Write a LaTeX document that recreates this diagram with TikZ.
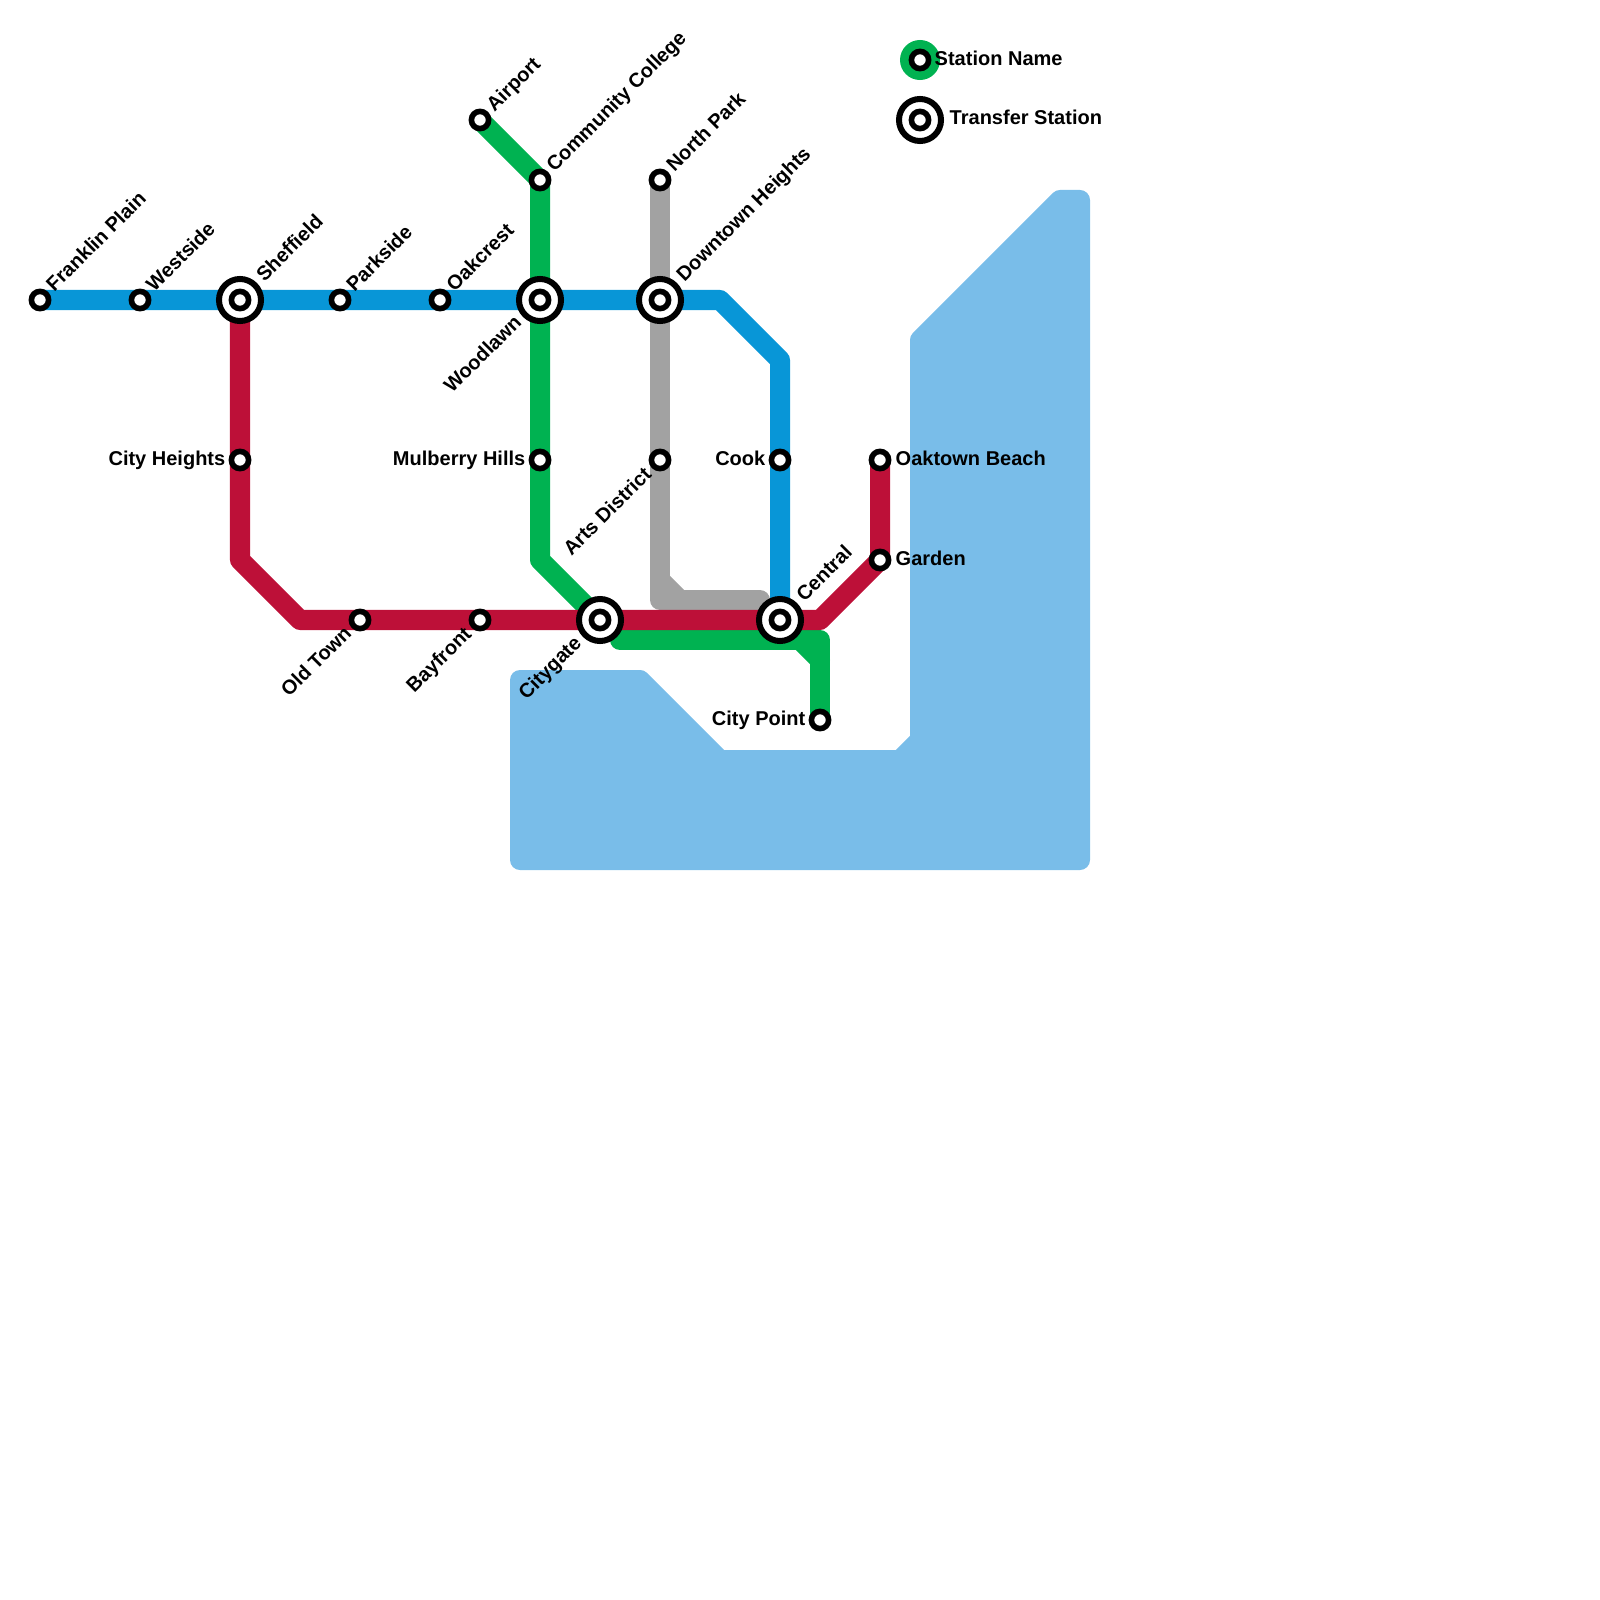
\documentclass[tikz,border=0pt]{standalone}
\usepackage{fontspec}
\setmainfont{Liberation Sans}
\usetikzlibrary{backgrounds,calc}
\definecolor{lineblue}{HTML}{0896D7}
\definecolor{linered}{HTML}{BD1038}
\definecolor{linegreen}{HTML}{00B251}
\definecolor{linegray}{HTML}{A2A2A2}
\definecolor{waterblue}{HTML}{79BDE9}

\begin{document}
\begin{tikzpicture}[
  x=0.01cm, y=-0.01cm,
  stn/.style={draw=black, fill=white, circle, line width=0.056cm, minimum size=0.172cm, inner sep=0pt, outer sep=0pt},
  xfer/.style={draw=black, fill=white, circle, line width=0.06cm, minimum size=0.42cm, inner sep=0pt, outer sep=0pt},
  route/.style={line width=0.2cm, line join=round, line cap=round},
  lab/.style={font=\fontsize{5.69}{6.8}\selectfont\bfseries, inner sep=0pt, text=black},
  labR/.style={lab, anchor=base west},
  labL/.style={lab, anchor=base east},
  labUp/.style={lab, anchor=base west, rotate=45},
  labDown/.style={lab, anchor=base east, rotate=45}
]
\useasboundingbox (0,0) rectangle (1600,1600);

% stations
\node[stn] (franklin) at (40,300) {};
\node[stn] (westside) at (140,300) {};
\node[xfer] (sheffield) at (240,300) {};
\node[stn] (sheffieldIn) at (sheffield) {};
\node[stn] (parkside) at (340,300) {};
\node[stn] (oakcrest) at (440,300) {};
\node[xfer] (woodlawn) at (540,300) {};
\node[stn] (woodlawnIn) at (woodlawn) {};
\node[xfer] (downtown) at (660,300) {};
\node[stn] (downtownIn) at (downtown) {};
\node[stn] (cook) at (780,460) {};
\node[stn] (heights) at (240,460) {};
\node[stn] (mulberry) at (540,460) {};
\node[stn] (arts) at (660,460) {};
\node[stn] (oaktown) at (880,460) {};
\node[stn] (garden) at (880,560) {};
\node[stn] (oldtown) at (360,620) {};
\node[stn] (bayfront) at (480,620) {};
\node[xfer] (citygate) at (600,620) {};
\node[stn] (citygateIn) at (citygate) {};
\node[xfer] (central) at (780,620) {};
\node[stn] (centralIn) at (central) {};
\node[stn] (citypoint) at (820,720) {};
\node[stn] (airport) at (480,120) {};
\node[stn] (college) at (540,180) {};
\node[stn] (northpark) at (660,180) {};

% bends
\coordinate (blueA) at (720,300);
\coordinate (blueB) at (780,360);
\coordinate (redA) at (240,560);
\coordinate (redB) at (300,620);
\coordinate (redC) at (820,620);
\coordinate (greenA) at (540,560);
\coordinate (greenB) at (620,640);
\coordinate (greenC) at (800,640);
\coordinate (greenD) at (820,640);
\coordinate (greenE) at (820,660);
\coordinate (grayA) at (660,600);
\coordinate (grayB) at (760,600);
\coordinate (grayC) at (660,580);
\coordinate (grayD) at (680,600);

\begin{scope}[on background layer]
  \draw[waterblue, fill=waterblue, line width=0.2cm, line join=round]
    (520,680) -- (640,680) -- (720,760) -- (900,760) -- (920,740) -- (920,340)
    -- (1060,200) -- (1080,200) -- (1080,860) -- (520,860) -- cycle;
  \draw[route, linegray] (northpark.center) -- (grayA) -- (grayB);
  \draw[route, linegray] (grayC) -- (grayD);
  \draw[route, linegreen] (airport.center) -- (college.center) -- (greenA) -- (citygate.center);
  \draw[route, linegreen] (greenB) -- (greenD) -- (citypoint.center);
  \draw[route, linegreen] (greenC) -- (greenE);
  \draw[route, lineblue] (franklin.center) -- (blueA) -- (blueB) -- (central.center);
  \draw[route, linered] (sheffield.center) -- (redA) -- (redB) -- (redC) -- (garden.center) -- (oaktown.center);
\end{scope}

% legend
\node[circle, fill=linegreen, minimum size=0.4cm, inner sep=0pt, outer sep=0pt] (legendDot) at (920,60) {};
\node[stn] (legendStn) at (legendDot) {};
\node[xfer] (legendXfer) at (920,120) {};
\node[stn] (legendXferIn) at (legendXfer) {};
\node[labR] (legendStnLab) at ($(legendStn)+(14,6)$) {Station Name};
\node[labR] (legendXferLab) at ($(legendXfer)+(29,5)$) {Transfer Station};

% labels
\node[labUp] (franklinLab) at ($(franklin)+(14,-7)$) {Franklin Plain};
\node[labUp] (westsideLab) at ($(westside)+(14,-7)$) {Westside};
\node[labUp] (sheffieldLab) at ($(sheffield)+(24,-17)$) {Sheffield};
\node[labUp] (parksideLab) at ($(parkside)+(14,-7)$) {Parkside};
\node[labUp] (oakcrestLab) at ($(oakcrest)+(14,-7)$) {Oakcrest};
\node[labUp] (airportLab) at ($(airport)+(14,-7)$) {Airport};
\node[labUp] (collegeLab) at ($(college)+(14,-7)$) {Community College};
\node[labUp] (northparkLab) at ($(northpark)+(14,-7)$) {North Park};
\node[labUp] (downtownLab) at ($(downtown)+(24,-17)$) {Downtown Heights};
\node[labUp] (centralLab) at ($(central)+(24,-17)$) {Central};
\node[labDown] (woodlawnLab) at ($(woodlawn)+(-17,23)$) {Woodlawn};
\node[labDown] (artsLab) at ($(arts)+(-7,15)$) {Arts District};
\node[labDown] (oldtownLab) at ($(oldtown)+(-7,14)$) {Old Town};
\node[labDown] (bayfrontLab) at ($(bayfront)+(-7,15)$) {Bayfront};
\node[labDown] (citygateLab) at ($(citygate)+(-17,24)$) {Citygate};
\node[labL] (heightsLab) at ($(heights)+(-14,5)$) {City Heights};
\node[labL] (mulberryLab) at ($(mulberry)+(-14,5)$) {Mulberry Hills};
\node[labL] (cookLab) at ($(cook)+(-14,5)$) {Cook};
\node[labL] (citypointLab) at ($(citypoint)+(-14,5)$) {City Point};
\node[labR] (oaktownLab) at ($(oaktown)+(15,5)$) {Oaktown Beach};
\node[labR] (gardenLab) at ($(garden)+(15,5)$) {Garden};
\end{tikzpicture}
\end{document}
